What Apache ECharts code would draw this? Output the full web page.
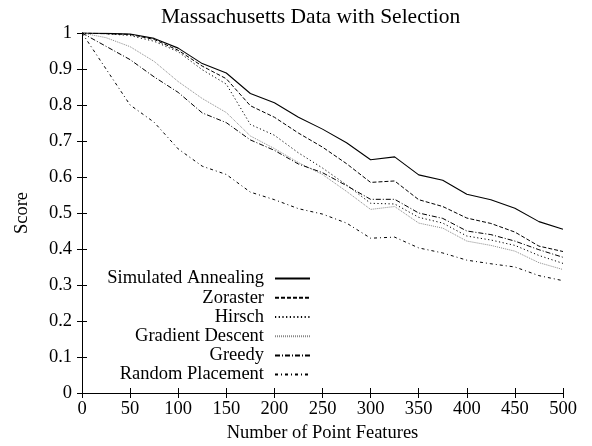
<!DOCTYPE html>
<html>
<head>
<meta charset="utf-8">
<script src="https://cdn.jsdelivr.net/npm/echarts@6/dist/echarts.min.js"></script>
<style>html,body{margin:0;padding:0;background:#fff;}#c{width:592px;height:446px;}</style>
</head>
<body>
<div id="c"></div>
<script>
const xValues = [0,25,50,75,100,125,150,175,200,225,250,275,300,325,350,375,400,425,450,475,500];
const simulatedAnnealing = [1.0,0.999,0.997,0.985,0.958,0.915,0.889,0.832,0.806,0.766,0.733,0.695,0.648,0.656,0.606,0.591,0.552,0.537,0.513,0.476,0.455];
const zoraster = [1.0,0.998,0.996,0.982,0.952,0.908,0.873,0.798,0.766,0.722,0.683,0.637,0.585,0.589,0.537,0.518,0.486,0.471,0.447,0.408,0.393];
const hirsch = [1.0,0.998,0.993,0.977,0.948,0.898,0.858,0.746,0.716,0.667,0.625,0.578,0.527,0.525,0.488,0.472,0.436,0.425,0.41,0.382,0.36];
const gradientDescent = [1.0,0.987,0.962,0.921,0.865,0.818,0.779,0.714,0.679,0.64,0.607,0.56,0.51,0.518,0.472,0.458,0.422,0.41,0.394,0.362,0.343];
const greedy = [1.0,0.963,0.926,0.878,0.835,0.778,0.751,0.703,0.674,0.636,0.612,0.576,0.538,0.538,0.5,0.485,0.45,0.44,0.422,0.398,0.377];
const randomPlacement = [1.0,0.90,0.80,0.752,0.678,0.63,0.607,0.558,0.537,0.512,0.497,0.472,0.43,0.433,0.403,0.389,0.369,0.359,0.35,0.326,0.312];
const seriesNames = ['Simulated Annealing','Zoraster','Hirsch','Gradient Descent','Greedy','Random Placement'];
const xTicks = [0,50,100,150,200,250,300,350,400,450,500];
const yTicks = [0,0.1,0.2,0.3,0.4,0.5,0.6,0.7,0.8,0.9,1];

const FONT = 'Liberation Serif';
const FS = 18.5;
const seriesData = [simulatedAnnealing, zoraster, hirsch, gradientDescent, greedy, randomPlacement];
const styles = [
  {color:'#000', type:'solid', width:1.1},
  {color:'#000', type:[4,2], width:1},
  {color:'#000', type:[1.2,2.5], width:1},
  {color:'#888', type:[1,1], width:1},
  {color:'#000', type:[5,2,1,2], width:1},
  {color:'#000', type:[3,3,1,3], width:1}
];

const chart = echarts.init(document.getElementById('c'), null, {renderer:'canvas'});
const axisCommon = {
  axisLine:{show:true, lineStyle:{color:'#000', width:1}},
  axisTick:{show:true, inside:true, length:5, lineStyle:{color:'#000'}},
  splitLine:{show:false}
};
chart.setOption({
  animation:false,
  backgroundColor:'#fff',
  title:{text:'Massachusetts Data with Selection', left:156, top:1,
    textStyle:{fontFamily:FONT, fontSize:21.5, fontWeight:'normal', color:'#000'}},
  grid:{left:82, right:29, top:33, bottom:53, outerBoundsMode:'none', containLabel:false},
  legend:{
    orient:'vertical', left:89, top:264, align:'right',
    itemWidth:35, itemHeight:10, itemGap:0,
    itemStyle:{opacity:0},
    data:seriesNames,
    textStyle:{fontFamily:FONT, fontSize:FS, color:'#000', width:170, align:'right',
      lineHeight:19.2, padding:[0,6,0,0]}
  },
  xAxis:[
    Object.assign({type:'value', min:0, max:500, interval:50, position:'bottom',
      name:'Number of Point Features', nameLocation:'middle', nameGap:31,
      nameTextStyle:{fontFamily:FONT, fontSize:FS, color:'#000'},
      axisLabel:{fontFamily:FONT, fontSize:FS, color:'#000', margin:7}}, axisCommon),
    Object.assign({type:'value', min:0, max:500, interval:50, position:'top',
      axisLabel:{show:false}}, axisCommon)
  ],
  yAxis:[
    Object.assign({type:'value', min:0, max:1, interval:0.1, position:'left',
      name:'Score', nameLocation:'middle', nameGap:50, nameRotate:90,
      nameTextStyle:{fontFamily:FONT, fontSize:FS, color:'#000'},
      axisLabel:{fontFamily:FONT, fontSize:FS, color:'#000', margin:10,
        formatter:v=>String(Math.round(v*10)/10)}}, axisCommon),
    Object.assign({type:'value', min:0, max:1, interval:0.1, position:'right',
      axisLabel:{show:false}}, axisCommon)
  ],
  series: seriesNames.map((n,i)=>({
    name:n, type:'line', xAxisIndex:0, yAxisIndex:0,
    data: xValues.map((x,j)=>[x, seriesData[i][j]]),
    symbol:'none', smooth:false,
    lineStyle:{color:styles[i].color, type:styles[i].type, width:styles[i].width},
    itemStyle:{color:styles[i].color}
  }))
});
</script>
</body>
</html>
